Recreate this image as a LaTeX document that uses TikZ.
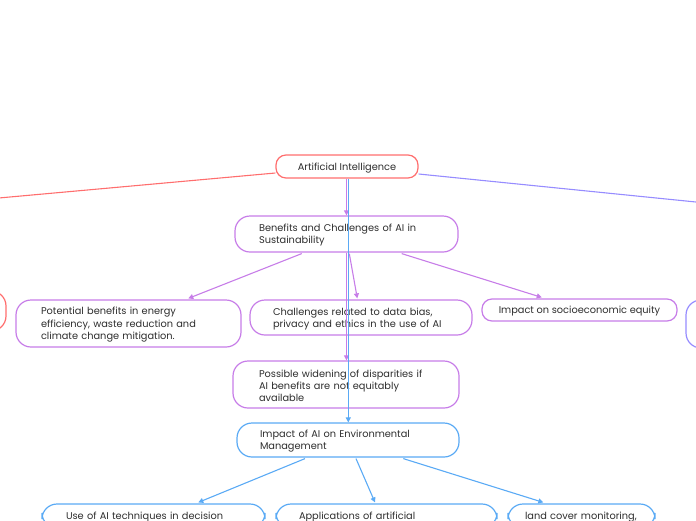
\documentclass[tikz,border=0pt]{standalone}
\usepackage{fontspec}
\setmainfont{Poppins}
\usetikzlibrary{arrows.meta,calc}
\definecolor{cred}{HTML}{FF6E6E}
\definecolor{cpur}{HTML}{C77DE8}
\definecolor{cblu}{HTML}{5AAAF5}
\definecolor{clav}{HTML}{968CFF}
\definecolor{ctxt}{HTML}{2E2E2E}
\begin{document}
\begin{tikzpicture}[x=1pt,y=-1pt,
  mm/.style={draw, rounded corners=15pt, line width=1.2pt, fill=white,
    font=\fontsize{9.8}{12.4}\selectfont, text=ctxt, inner sep=0pt, align=left, text height=10pt},
  sm/.style={mm, rounded corners=10pt, text height=, text depth=0pt},
  one/.style={mm, text height=, text depth=0pt},
  con/.style={line width=1.1pt},
  arr/.style={con, -{Triangle[length=5pt,width=5pt]}}]
\useasboundingbox (0,0) rectangle (696,520);
\clip (0,0) rectangle (696,520);
% nodes
\node[sm, draw=cred, minimum width=142pt, minimum height=23pt, align=center] (ai) at (347,166.5) {Artificial Intelligence};
\node[one, draw=cred, minimum width=100pt, minimum height=40pt] (lft) at (-44,311) {};
\node[one, draw=clav, minimum width=100pt, minimum height=48pt] (rgt) at (736,324) {};
\node[mm, draw=cpur, minimum width=223pt, minimum height=36pt, text width=175pt] (ben) at (346.5,234) {Benefits and Challenges of AI in\\Sustainability};
\node[mm, draw=cpur, minimum width=225pt, minimum height=47pt, text width=175pt] (pot) at (128.5,323.5) {Potential benefits in energy\\efficiency, waste reduction and\\climate change mitigation.};
\node[mm, draw=cpur, minimum width=222pt, minimum height=35pt, text width=176pt] (cha) at (361,317.5) {Challenges related to data bias,\\privacy and ethics in the use of AI};
\node[sm, draw=cpur, minimum width=195pt, minimum height=22pt, align=center] (soc) at (579.5,310) {Impact on socioeconomic equity};
\node[mm, draw=cpur, minimum width=226pt, minimum height=47pt, text width=174pt] (pos) at (346,384.5) {Possible widening of disparities if\\AI benefits are not equitably\\available};
\node[mm, draw=cblu, minimum width=222pt, minimum height=34pt, text width=176pt] (env) at (348,440) {Impact of AI on Environmental\\Management};
\node[one, draw=cblu, minimum width=223pt, minimum height=24pt, text width=175pt] (use) at (153.5,516) {Use of AI techniques in decision};
\node[one, draw=cblu, minimum width=221pt, minimum height=24pt, text width=175pt] (app) at (386.5,516) {Applications of artificial};
\node[one, draw=cblu, minimum width=147pt, minimum height=24pt, text width=113pt] (lan) at (581.5,516) {land cover monitoring,};
% free ends
\coordinate (redtip) at (-300,225);
\coordinate (lavtip) at (1000,232.7);
% connectors
\draw[con, cred] ($(ai.west)+(0,6.5)$) -- (redtip);
\draw[con, clav] ($(ai.east)+(0,7.5)$) -- (lavtip);
\draw[arr, cpur] (ai.south -| ben.north) -- (ben.north);
\draw[arr, cpur] ($(ben.south)+(-44.8,1)$) -- ($(pot.north)+(59.8,-1)$);
\draw[arr, cpur] ($(ben.south)+(2.8,1)$) -- ($(cha.north)+(-3.7,-1)$);
\draw[arr, cpur] ($(ben.south)+(55.2,1)$) -- ($(soc.north)+(-37.8,-1)$);
\draw[arr, cpur] (ben.south) -- (ben.south |- pos.north);
\draw[arr, cblu] ($(ai.south)+(1.3,0)$) -- ($(env.north)+(0.3,0)$);
\draw[arr, cblu] ($(env.south)+(-43,1)$) -- ($(use.north)+(44.8,-1)$);
\draw[arr, cblu] ($(env.south)+(8,1)$) -- ($(app.north)+(-11.5,-1)$);
\draw[arr, cblu] ($(env.south)+(55.3,1)$) -- ($(lan.north)+(-38.2,-1)$);
\end{tikzpicture}
\end{document}
